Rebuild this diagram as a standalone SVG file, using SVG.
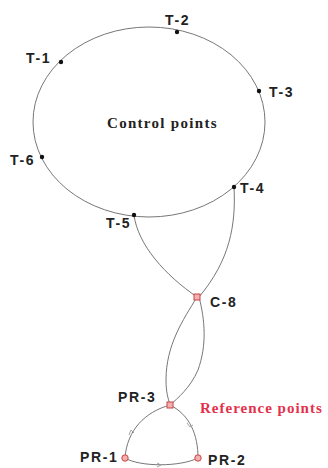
<svg xmlns="http://www.w3.org/2000/svg" width="328" height="468" viewBox="0 0 328 468">
<defs>
<style>
.lbl{font-family:"Liberation Sans",Arial,sans-serif;font-weight:bold;font-size:14px;letter-spacing:1.6px;fill:#222}
.ttl{font-family:"Liberation Serif","Times New Roman",serif;font-weight:bold;font-size:15px;letter-spacing:1.3px}
.ln{fill:none;stroke:#777;stroke-width:1}
.dot{fill:#111}
.ref{fill:#f2b0b0;stroke:#c44;stroke-width:1}
.arr{fill:none;stroke:#999;stroke-width:0.9}
</style>
</defs>
<rect width="328" height="468" fill="#fff"/>
<g id="connectors">
<ellipse class="ln" cx="149" cy="122" rx="116" ry="95"/>
<path class="ln" d="M134,215 C138,245 165,275 197,297 C183,320 166,345 166,380 C166,392 168,398 170,405"/>
<path class="ln" d="M234,187 C236,225 230,260 199,297 C205,320 207,345 198,370 C190,388 178,398 170,405"/>
<path class="ln" d="M170,405 C145,412 127,430 125,458"/>
<path class="ln" d="M170,405 C190,415 198,435 198,458"/>
<path class="ln" d="M125,458 C140,467 180,467 198,458"/>
<path class="arr" d="M129,435 L131,430 L134,433"/>
<path class="arr" d="M187,423 L190,427 L193,425"/>
<path class="arr" d="M157,463 L161,465 L157,467"/>
</g>
<text class="ttl" x="107" y="128" fill="#222">Control points</text>
<g id="T-1"><circle class="dot" cx="61" cy="62" r="2.2"/><text class="lbl" x="26" y="63">T-1</text></g>
<g id="T-2"><circle class="dot" cx="177" cy="32" r="2.2"/><text class="lbl" x="165" y="25">T-2</text></g>
<g id="T-3"><circle class="dot" cx="259" cy="91" r="2.2"/><text class="lbl" x="269" y="97">T-3</text></g>
<g id="T-4"><circle class="dot" cx="234" cy="187" r="2.2"/><text class="lbl" x="240" y="193">T-4</text></g>
<g id="T-5"><circle class="dot" cx="134" cy="215" r="2.2"/><text class="lbl" x="106" y="228">T-5</text></g>
<g id="T-6"><circle class="dot" cx="42" cy="157" r="2.2"/><text class="lbl" x="10" y="165">T-6</text></g>
<g id="C-8"><rect class="ref" x="194" y="294" width="6" height="6"/><text class="lbl" x="210" y="307">C-8</text></g>
<g id="PR-3"><rect class="ref" x="167" y="402" width="6" height="6"/><text class="lbl" x="118" y="402">PR-3</text></g>
<g id="PR-1"><circle class="ref" cx="125" cy="458" r="3.2"/><text class="lbl" x="80" y="462">PR-1</text></g>
<g id="PR-2"><circle class="ref" cx="198" cy="458" r="3.2"/><text class="lbl" x="208" y="465">PR-2</text></g>
<text class="ttl" x="200" y="413" fill="#e3304c" style="letter-spacing:1px">Reference points</text>
</svg>
